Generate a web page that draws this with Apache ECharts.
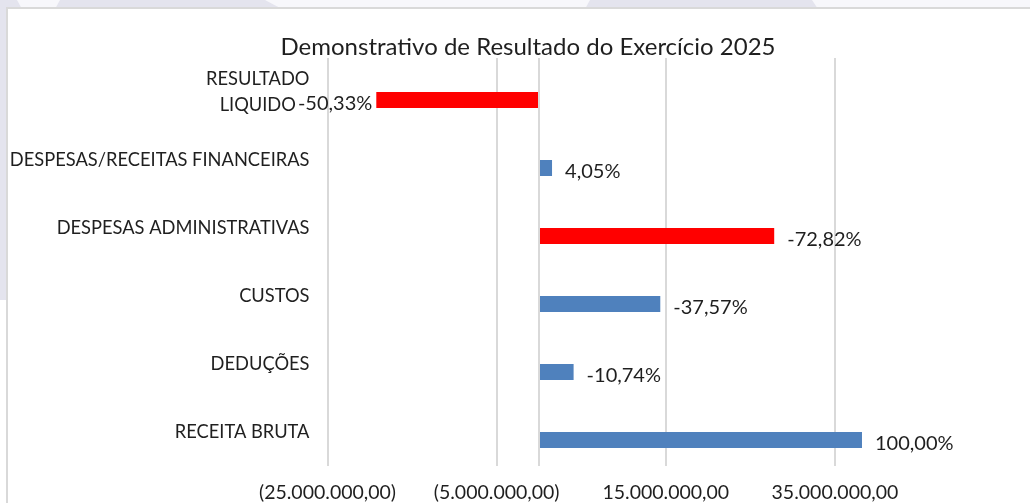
<!DOCTYPE html>
<html>
<head>
<meta charset="utf-8">
<script src="https://cdn.jsdelivr.net/npm/echarts@6/dist/echarts.min.js"></script>
<style>
html,body{margin:0;padding:0;background:#ffffff;}
#c{width:1030px;height:503px;}
</style>
</head>
<body>
<div id="c"></div>
<script>
// ---- data ----
var categories = ['RECEITA BRUTA', 'DEDUÇÕES', 'CUSTOS', 'DESPESAS ADMINISTRATIVAS', 'DESPESAS/RECEITAS FINANCEIRAS', 'RESULTADO\nLIQUIDO'];
var values = [38200000, 4100000, 14350000, 27820000, 1550000, -19230000];
var percentLabels = ['100,00%', '-10,74%', '-37,57%', '-72,82%', '4,05%', '-50,33%'];
var barColors = ['#4F81BD', '#4F81BD', '#4F81BD', '#FF0000', '#4F81BD', '#FF0000'];
var axisMin = -25000000, axisMax = 45000000, axisStep = 20000000;
var titleText = 'Demonstrativo de Resultado do Exercício 2025';

function fmtNum(v) {
  var neg = v < 0; v = Math.abs(v);
  var s = v.toFixed(2).split('.');
  var intp = s[0].replace(/\B(?=(\d{3})+(?!\d))/g, '.');
  var r = intp + ',' + s[1];
  return neg ? '(' + r + ')' : r;
}

var FONT = 'Lato';
var TXT = '#1f1f1f';
var CAT_SIZE = 18.3;

var mainData = values.map(function (v, i) {
  var item = { value: v, itemStyle: { color: barColors[i] } };
  if (v < 0) item.label = { position: 'left', distance: 4 };
  return item;
});
var spacer = values.map(function () { return '-'; });

var chart = echarts.init(document.getElementById('c'), null, { renderer: 'canvas' });
chart.setOption({
  animation: false,
  backgroundColor: '#ffffff',
  textStyle: { fontFamily: FONT },
  graphic: [
    { type: 'rect', z: -10, silent: true, shape: { x: 0, y: 0, width: 1030, height: 9 }, style: { fill: '#e4e4ee' } },
    { type: 'rect', z: -10, silent: true, shape: { x: 0, y: 0, width: 7, height: 300 }, style: { fill: '#e4e4ee' } },
    { type: 'polygon', z: -9, silent: true, shape: { points: [[17, 0], [60, 0], [55, 9], [22, 9]] }, style: { fill: '#f7f7fb' } },
    { type: 'polygon', z: -9, silent: true, shape: { points: [[265, 0], [590, 0], [585, 9], [282, 9]] }, style: { fill: '#f7f7fb' } },
    { type: 'polygon', z: -9, silent: true, shape: { points: [[812, 0], [1030, 0], [1030, 9], [818, 9]] }, style: { fill: '#f7f7fb' } },
    { type: 'rect', z: -8, silent: true, shape: { x: 7, y: 8, width: 1040, height: 510 }, style: { fill: '#ffffff', stroke: '#d9d9d9', lineWidth: 2 } }
  ],
  title: {
    text: titleText,
    left: 523,
    textAlign: 'center',
    top: 30,
    textStyle: { fontFamily: FONT, fontSize: 24, fontWeight: 'normal', color: TXT }
  },
  grid: { left: 327.5, top: 58, width: 592, height: 408, containLabel: false },
  xAxis: {
    type: 'value',
    min: axisMin,
    max: axisMax,
    interval: axisStep,
    axisLine: { show: false },
    axisTick: { show: false },
    axisLabel: {
      formatter: fmtNum, showMaxLabel: false, margin: 17,
      fontFamily: FONT, fontSize: 19.5, color: TXT
    },
    splitLine: { show: true, showMinLine: true, showMaxLine: false, lineStyle: { color: '#d9d9d9', width: 2 } }
  },
  yAxis: {
    type: 'category',
    data: categories,
    axisLine: { show: false },
    axisTick: { show: false },
    axisLabel: {
      margin: 18, fontFamily: FONT, fontSize: CAT_SIZE, color: TXT, lineHeight: 26, align: 'right',
      formatter: function (v) {
        if (v.indexOf('\n') < 0) return v;
        return v.split('\n').map(function (l) { return '{c|' + l + '}'; }).join('\n');
      },
      rich: {
        c: { align: 'center', fontFamily: FONT, fontSize: CAT_SIZE, color: TXT, lineHeight: 26 }
      }
    },
    splitLine: { show: false }
  },
  series: [
    { type: 'bar', name: 'spacer', data: spacer, barWidth: 16, barGap: '0%', silent: true },
    {
      type: 'bar', name: 'valor', data: mainData, barWidth: 16, barGap: '0%',
      label: {
        show: true, position: 'right', distance: 13, offset: [0, 4],
        fontFamily: FONT, fontSize: 20, color: TXT,
        formatter: function (p) { return percentLabels[p.dataIndex]; }
      },
      markLine: {
        silent: true, symbol: ['none', 'none'], label: { show: false },
        lineStyle: { type: 'solid', color: '#d9d9d9', width: 2 },
        data: [{ xAxis: 0 }]
      }
    }
  ]
});
</script>
</body>
</html>
